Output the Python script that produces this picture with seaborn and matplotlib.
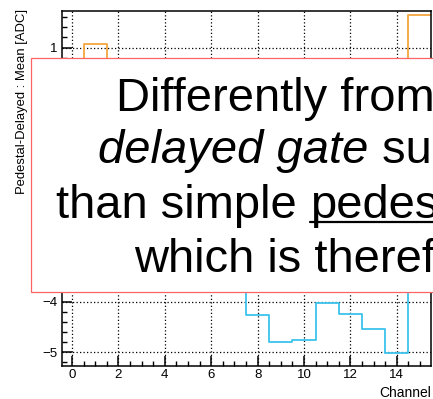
import numpy as np
import pandas as pd
import matplotlib
matplotlib.use("Agg")
import matplotlib.pyplot as plt
import seaborn as sns
from matplotlib.patches import Rectangle
from matplotlib.lines import Line2D

# ---- data (hidden bins estimated) ----
channels = [0, 1, 2, 3, 4, 5, 6, 7, 8, 9, 10, 11, 12, 13, 14, 15]
orange_vals = [0.45, 1.07, 0.55, 0.40, 0.50, 0.35, 0.45, 0.50, 0.40, 0.30, 0.45, 0.50, 0.35, 0.40, 0.55, 1.65]
cyan_vals = [-3.2, -3.4, -3.1, -3.3, -3.0, -3.5, -3.2, -3.4, -4.26, -4.79, -4.75, -4.02, -4.24, -4.55, -5.01, -3.5]
x_ticks = [0, 2, 4, 6, 8, 10, 12, 14]
y_ticks = [-5, -4, 1]
ylabel = "Pedestal-Delayed : Mean [ADC]"
xlabel = "Channel"
box_lines = [
    [("Differently from the", "normal", False)],
    [("delayed gate", "italic", False), (" subtraction", "normal", False)],
    [("than simple ", "normal", False), ("pedestal", "normal", True)],
    [("which is therefore", "normal", False)],
]

sns.set_theme(style="ticks")
plt.rcParams["font.family"] = ["Liberation Sans", "DejaVu Sans"]
plt.rcParams["axes.unicode_minus"] = True

W, H = 433, 399
fig = plt.figure(figsize=(W / 100, H / 100), dpi=100)
ax = fig.add_axes([61.7 / W, 1 - 365.5 / H, (431 - 61.7) / W, (365.5 - 11) / H])


def step_frame(vals):
    xe = [c - 0.5 for c in channels] + [channels[-1] + 0.5]
    ye = list(vals) + [vals[-1]]
    return pd.DataFrame({"x": xe, "y": ye})


sns.lineplot(data=step_frame(orange_vals), x="x", y="y", drawstyle="steps-post",
             color="#f5a540", lw=1.3, ax=ax, sort=False)
sns.lineplot(data=step_frame(cyan_vals), x="x", y="y", drawstyle="steps-post",
             color="#3cc3ec", lw=1.3, ax=ax, sort=False)

ax.set_xlim(-0.45, 15.48)
ax.set_ylim(-5.26, 1.72)
ax.set_xticks(x_ticks)
ax.set_yticks(y_ticks)
ax.set_xticks(np.arange(0, 15.5, 0.5), minor=True)
ax.set_yticks(np.arange(-5.2, 1.75, 0.2), minor=True)
ax.set_xticklabels([str(v) for v in x_ticks])
ax.set_yticklabels([str(v).replace("-", "\u2212") for v in y_ticks])
ax.tick_params(which="major", direction="in", length=7.5, width=1.1, labelsize=9.5,
               color="black", labelcolor="black")
ax.tick_params(axis="x", which="major", pad=2.5)
ax.tick_params(axis="y", which="major", pad=3.3)
ax.tick_params(which="minor", direction="in", length=3.8, width=1.0, color="black")
for s in ax.spines.values():
    s.set_color("black")
    s.set_linewidth(1.1)
ax.grid(True, which="major", color="black", linestyle=(0, (1, 1.8)), linewidth=0.9)

ax.set_xlabel(xlabel, fontsize=10, color="black", loc="right")
ax.xaxis.label.set_va("center")
ax.xaxis.set_label_coords(1.0, -27.5 / 354.5)
ax.set_ylabel(ylabel, fontsize=9.4, color="black", loc="top")
ax.yaxis.label.set_va("center")
ax.yaxis.set_label_coords((22 - 61.7) / 369.3, 1.005)

# ---- overlay box ----
rect = Rectangle((31.3 / W, 1 - 292 / H), 1.2, (292 - 57.7) / H, transform=fig.transFigure,
                 facecolor="white", edgecolor="#ff6464", lw=0.9, zorder=10, clip_on=False)
fig.patches.append(rect)

fs = 33.9
baselines = [111, 163.3, 218.3, 271.7]
starts = [115.6, 98.3, 56.0, 134.2]
fig.canvas.draw()
renderer = fig.canvas.get_renderer()


def text_width(s, style):
    t = fig.text(0, 0, s, fontsize=fs, fontstyle=style)
    w = t.get_window_extent(renderer).width
    t.remove()
    return w


for line, yb, x0 in zip(box_lines, baselines, starts):
    x = x0
    for seg, style, underline in line:
        t = fig.text(x / W, 1 - yb / H, seg, fontsize=fs, fontstyle=style, color="black",
                     ha="left", va="baseline", zorder=11)
        w = text_width(seg.replace(" ", "\u00a0"), style) if seg.endswith(" ") or seg.startswith(" ") else t.get_window_extent(renderer).width
        if underline:
            yu = 1 - (yb + 3.5) / H
            fig.lines.append(Line2D([x / W, x / W + w / W], [yu, yu], transform=fig.transFigure,
                                    color="black", lw=1.6, zorder=11))
        x += w

fig.savefig("out.png", dpi=100)
